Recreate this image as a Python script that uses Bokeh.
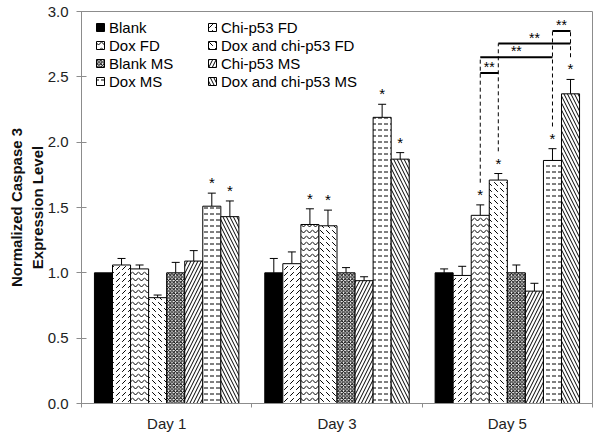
from bokeh.plotting import figure
from bokeh.models import (ColumnDataSource, Whisker, TeeHead, FixedTicker,
                          NumeralTickFormatter, Legend, LegendItem)
from bokeh.core.properties import value
from bokeh.embed import file_html
from bokeh.resources import INLINE

FONT = "Liberation Sans"

days = ["Day 1", "Day 3", "Day 5"]
series = ["Blank", "Chi-p53 FD", "Dox FD", "Dox and chi-p53 FD",
          "Blank MS", "Chi-p53 MS", "Dox MS", "Dox and chi-p53 MS"]

# mean values (Day 1, Day 3, Day 5)
blank = [1.00, 1.00, 1.00]
chi_fd = [1.06, 1.07, 0.98]
dox_fd = [1.03, 1.37, 1.44]
doxchi_fd = [0.81, 1.36, 1.71]
blank_ms = [1.00, 1.00, 1.00]
chi_ms = [1.09, 0.94, 0.86]
dox_ms = [1.51, 2.19, 1.86]
doxchi_ms = [1.43, 1.87, 2.37]

# error bar sizes (upper only)
blank_err = [0.00, 0.11, 0.03]
chi_fd_err = [0.05, 0.09, 0.07]
dox_fd_err = [0.03, 0.12, 0.08]
doxchi_fd_err = [0.02, 0.12, 0.05]
blank_ms_err = [0.08, 0.04, 0.06]
chi_ms_err = [0.08, 0.03, 0.06]
dox_ms_err = [0.10, 0.10, 0.09]
doxchi_ms_err = [0.12, 0.05, 0.11]

# significance vs blank (*)
blank_sig = [0, 0, 0]
chi_fd_sig = [0, 0, 0]
dox_fd_sig = [0, 1, 1]
doxchi_fd_sig = [0, 1, 1]
blank_ms_sig = [0, 0, 0]
chi_ms_sig = [0, 0, 0]
dox_ms_sig = [1, 1, 1]
doxchi_ms_sig = [1, 1, 1]

# Day 5 pairwise comparisons (**): series a, series b, bracket level
bracket_a = ["Dox FD", "Dox FD", "Dox and chi-p53 FD", "Dox MS"]
bracket_b = ["Dox and chi-p53 FD", "Dox MS", "Dox and chi-p53 MS", "Dox and chi-p53 MS"]
bracket_level = [2.53, 2.65, 2.755, 2.85]

values = [blank, chi_fd, dox_fd, doxchi_fd, blank_ms, chi_ms, dox_ms, doxchi_ms]
errs = [blank_err, chi_fd_err, dox_fd_err, doxchi_fd_err,
        blank_ms_err, chi_ms_err, dox_ms_err, doxchi_ms_err]
sigs = [blank_sig, chi_fd_sig, dox_fd_sig, doxchi_fd_sig,
        blank_ms_sig, chi_ms_sig, dox_ms_sig, doxchi_ms_sig]

styles = [
    dict(fill_color="black", hatch_pattern=None),
    dict(fill_color="white", hatch_pattern="right_diagonal_dash"),
    dict(fill_color="white", hatch_pattern="horizontal_wave"),
    dict(fill_color="white", hatch_pattern="left_diagonal_dash"),
    dict(fill_color="white", hatch_pattern="diagonal_cross"),
    dict(fill_color="white", hatch_pattern="right_diagonal_line"),
    dict(fill_color="white", hatch_pattern="horizontal_dash"),
    dict(fill_color="white", hatch_pattern="left_diagonal_line"),
]
scales = [6, 6, 6, 6, 3.5, 7, 6, 7]

BW = 0.106
n = len(series)

FIG_W, FIG_H = 602, 436
BORDER_TOP = 11
BORDER_BOTTOM = 33

p = figure(width=FIG_W, height=FIG_H, x_range=(0, 3), y_range=(0, 3),
           output_backend="svg", toolbar_location=None,
           min_border_left=81, min_border_right=10, min_border_top=BORDER_TOP,
           min_border_bottom=BORDER_BOTTOM)
p.xgrid.visible = False
p.ygrid.visible = False
p.outline_line_color = "#8c8c8c"
p.background_fill_color = "white"
p.border_fill_color = "white"

def xpos(d, j):
    return d + 0.5 + (j - (n - 1) / 2) * BW

renderers = []
for j, name in enumerate(series):
    xs = [xpos(d, j) for d in range(len(days))]
    src = ColumnDataSource(dict(x=xs, top=values[j]))
    st = styles[j]
    kw = dict(x="x", top="top", bottom=0, width=BW, source=src,
              fill_color=st["fill_color"], line_color="black", line_width=1)
    if st["hatch_pattern"]:
        kw.update(hatch_pattern=st["hatch_pattern"], hatch_color="black",
                  hatch_scale=scales[j], hatch_weight=1)
    r = p.vbar(**kw)
    renderers.append(r)
    # error bars
    ex, elo, ehi = [], [], []
    for d in range(len(days)):
        if errs[j][d] > 0:
            ex.append(xs[d]); elo.append(values[j][d]); ehi.append(values[j][d] + errs[j][d])
    esrc = ColumnDataSource(dict(x=ex, lo=elo, hi=ehi))
    w = Whisker(source=esrc, base="x", lower="lo", upper="hi",
                upper_head=TeeHead(size=8, line_color="black", line_width=1),
                lower_head=None, line_color="black", line_width=1)
    p.add_layout(w)
    # asterisks
    sx, sy = [], []
    for d in range(len(days)):
        if sigs[j][d]:
            sx.append(xs[d]); sy.append(values[j][d] + errs[j][d] + 0.08)
    if sx:
        p.text(x=sx, y=sy, text=["*"] * len(sx), text_font=value(FONT),
               text_font_size="15px", text_align="center", text_baseline="middle",
               text_color="black")

# Day 5 brackets
d5 = 2
top_of = {}
for a, b, lev in zip(bracket_a, bracket_b, bracket_level):
    for s in (a, b):
        top_of[s] = max(top_of.get(s, 0), lev)
dx0, dx1, dy0, dy1 = [], [], [], []
for s, lev in top_of.items():
    j = series.index(s)
    x = xpos(d5, j)
    dx0.append(x); dx1.append(x)
    dy0.append(values[j][d5] + errs[j][d5] + 0.17); dy1.append(lev)
p.segment(x0=dx0, y0=dy0, x1=dx1, y1=dy1, line_color="black", line_width=1,
          line_dash="4 3")
bx0, bx1, by, tx, ty = [], [], [], [], []
for a, b, lev in zip(bracket_a, bracket_b, bracket_level):
    xa = xpos(d5, series.index(a)); xb = xpos(d5, series.index(b))
    bx0.append(xa); bx1.append(xb); by.append(lev)
    tx.append((xa + xb) / 2); ty.append(lev + 0.045)
p.segment(x0=bx0, y0=by, x1=bx1, y1=by, line_color="black", line_width=2)
p.text(x=tx, y=ty, text=["**"] * len(tx), text_font=value(FONT),
       text_font_size="14px", text_align="center", text_baseline="middle",
       text_color="black")

# axes
AX = "#8c8c8c"
p.xaxis.ticker = FixedTicker(ticks=[0.5, 1.5, 2.5], minor_ticks=[0, 1, 2, 3])
p.xaxis.major_label_overrides = {0.5: days[0], 1.5: days[1], 2.5: days[2]}
p.xaxis.major_tick_line_color = None
p.xaxis.minor_tick_line_color = AX
p.xaxis.minor_tick_out = 4
p.xaxis.minor_tick_in = 0
p.xaxis.axis_line_color = AX
p.xaxis.major_label_text_font = FONT
p.xaxis.major_label_text_font_size = "15px"
p.xaxis.major_label_text_color = "#222222"
p.xaxis.major_label_standoff = 5

p.yaxis.ticker = FixedTicker(ticks=[0, 0.5, 1.0, 1.5, 2.0, 2.5, 3.0], minor_ticks=[])
p.yaxis.formatter = NumeralTickFormatter(format="0.0")
p.yaxis.axis_line_color = AX
p.yaxis.major_tick_line_color = AX
p.yaxis.major_tick_in = 5
p.yaxis.major_tick_out = 5
p.yaxis.minor_tick_line_color = None
p.yaxis.major_label_text_font = FONT
p.yaxis.major_label_text_font_size = "15px"
p.yaxis.major_label_text_color = "#222222"
p.yaxis.major_label_standoff = 8
p.yaxis.axis_label = "Normalized Caspase 3\nExpression Level"
p.yaxis.axis_label_text_font = FONT
p.yaxis.axis_label_text_font_size = "15px"
p.yaxis.axis_label_text_font_style = "bold"
p.yaxis.axis_label_text_color = "#111111"
p.yaxis.axis_label_standoff = -1

# legend: two columns, placed from the frame's bottom-left (screen units)
frame_h = FIG_H - BORDER_TOP - BORDER_BOTTOM
ROW_H = 18
leg_h = ROW_H * 4
items = [LegendItem(label=s, renderers=[r]) for s, r in zip(series, renderers)]
leg = Legend(items=items, ncols=2, orientation="horizontal",
             location=(14, frame_h - leg_h - 7),
             border_line_color=None, background_fill_alpha=0,
             label_text_font=FONT, label_text_font_size="15px",
             label_text_color="black",
             glyph_width=10, glyph_height=10, label_standoff=4,
             label_height=ROW_H, label_width=98, spacing=0, padding=0, margin=0)
p.add_layout(leg)

open("out.html", "w").write(file_html(p, INLINE))
